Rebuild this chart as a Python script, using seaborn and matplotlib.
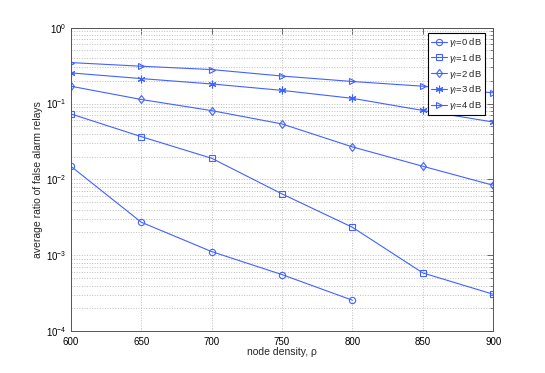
import matplotlib
matplotlib.use('Agg')
import matplotlib.pyplot as plt
import seaborn as sns
import pandas as pd
from matplotlib.ticker import LogLocator, NullFormatter, FuncFormatter
import numpy as np

# node density values on the x axis
density = [600, 650, 700, 750, 800, 850, 900]

# average ratio of false alarm relays, one list per threshold
ratio_0db = [0.0149, 0.00273, 0.00112, 0.000557, 0.000256]
ratio_1db = [0.073, 0.0366, 0.019, 0.00644, 0.00234, 0.000586, 0.000307]
ratio_2db = [0.169, 0.113, 0.0806, 0.0538, 0.0268, 0.0149, 0.00837]
ratio_3db = [0.253, 0.213, 0.181, 0.149, 0.117, 0.081, 0.057]
ratio_4db = [0.346, 0.31, 0.28, 0.23, 0.195, 0.169, 0.138]

labels = [r'$\gamma_l$=0 dB', r'$\gamma_l$=1 dB', r'$\gamma_l$=2 dB',
          r'$\gamma_l$=3 dB', r'$\gamma_l$=4 dB']
series = [ratio_0db, ratio_1db, ratio_2db, ratio_3db, ratio_4db]
markers = ['o', 's', 'd', (6, 2, 0), '>']

rows = []
for lab, vals in zip(labels, series):
    for x, v in zip(density, vals):
        rows.append({'density': x, 'ratio': v, 'gamma': lab})
df = pd.DataFrame(rows)

sns.set_style('white')
plt.rcParams['font.family'] = ['Liberation Sans', 'DejaVu Sans']
plt.rcParams['mathtext.fontset'] = 'custom'
plt.rcParams['mathtext.rm'] = 'Liberation Sans'
plt.rcParams['mathtext.it'] = 'Liberation Sans:italic'

blue = '#4262ff'

fig = plt.figure(figsize=(5.45, 3.73), dpi=100)
ax = fig.add_axes([0.130, 0.112, 0.775, 0.814])

for lab, mk in zip(labels, markers):
    sub = df[df['gamma'] == lab]
    sns.lineplot(data=sub, x='density', y='ratio', ax=ax, color=blue,
                 marker=mk, markersize=5.5 if mk == (6, 2, 0) else 4.5,
                 markerfacecolor='none', markeredgecolor=blue,
                 markeredgewidth=0.8, linewidth=0.8, label=lab)

ax.set_yscale('log')
ax.set_ylim(1e-4, 1)
ax.set_xlim(600, 900)
ax.set_xticks(density)
ax.yaxis.set_major_locator(LogLocator(base=10, numticks=10))
ax.yaxis.set_minor_locator(LogLocator(base=10, subs=range(2, 10), numticks=50))
ax.yaxis.set_minor_formatter(NullFormatter())
ax.yaxis.set_major_formatter(FuncFormatter(
    lambda v, p: r'10$^{\mathregular{%d}}$' % int(round(np.log10(v)))))

ax.grid(True, which='major', axis='both', color='#bdbdbd', linestyle=':', linewidth=0.7)
ax.grid(True, which='minor', axis='y', color='#bdbdbd', linestyle=':', linewidth=0.7)

for sp in ax.spines.values():
    sp.set_color('#555555')
    sp.set_linewidth(0.7)
ax.tick_params(which='both', direction='in', top=True, right=True,
               colors='#555555', labelcolor='black', labelsize=7)
ax.tick_params(which='major', length=4, width=0.6)
ax.tick_params(axis='x', which='major', pad=4)
ax.tick_params(axis='y', which='major', pad=3)
ax.tick_params(which='minor', length=2, width=0.5)

ax.set_xlabel('node density, ρ', fontsize=7.5, labelpad=0)
ax.set_ylabel('average ratio of false alarm relays', fontsize=7.5, labelpad=2)

leg = ax.legend(loc='upper right', bbox_to_anchor=(0.981, 0.982), fontsize=6.8,
                frameon=True, fancybox=False, edgecolor='black', framealpha=1,
                handlelength=1.7, borderpad=0.3, labelspacing=0.3,
                handletextpad=0.25, borderaxespad=0)
leg.get_frame().set_linewidth(0.8)

plt.savefig('out.png', dpi=100)
